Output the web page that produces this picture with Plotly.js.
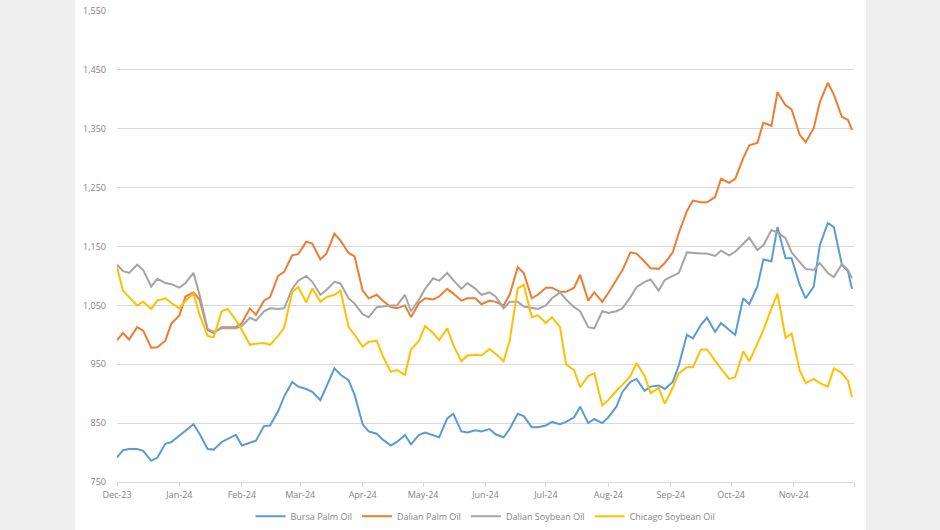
<!DOCTYPE html>
<html>
<head>
<meta charset="utf-8">
<script src="https://cdn.plot.ly/plotly-3.0.1.min.js"></script>
<style>html,body{margin:0;padding:0;background:#efefef;}#chart{width:940px;height:530px;}</style>
</head>
<body>
<div id="chart"></div>
<script>
const dates = [
"2023-12-01","2023-12-04","2023-12-07","2023-12-11","2023-12-14","2023-12-18","2023-12-21","2023-12-25","2023-12-28",
"2024-01-01","2024-01-04","2024-01-08","2024-01-11","2024-01-15","2024-01-18","2024-01-22","2024-01-25","2024-01-29",
"2024-02-01","2024-02-05","2024-02-08","2024-02-12","2024-02-15","2024-02-19","2024-02-22","2024-02-26","2024-02-29",
"2024-03-04","2024-03-07","2024-03-11","2024-03-14","2024-03-18","2024-03-21","2024-03-25","2024-03-28",
"2024-04-01","2024-04-04","2024-04-08","2024-04-11","2024-04-15","2024-04-18","2024-04-22","2024-04-25","2024-04-29",
"2024-05-02","2024-05-06","2024-05-09","2024-05-13","2024-05-16","2024-05-20","2024-05-23","2024-05-27","2024-05-30",
"2024-06-03","2024-06-06","2024-06-10","2024-06-13","2024-06-17","2024-06-20","2024-06-24","2024-06-27",
"2024-07-01","2024-07-04","2024-07-08","2024-07-11","2024-07-15","2024-07-18","2024-07-22","2024-07-25","2024-07-29",
"2024-08-01","2024-08-05","2024-08-08","2024-08-12","2024-08-15","2024-08-19","2024-08-22","2024-08-26","2024-08-29",
"2024-09-02","2024-09-05","2024-09-09","2024-09-12","2024-09-16","2024-09-19","2024-09-23","2024-09-26","2024-09-30",
"2024-10-03","2024-10-07","2024-10-10","2024-10-14","2024-10-17","2024-10-21","2024-10-24","2024-10-28","2024-10-31",
"2024-11-04","2024-11-07","2024-11-11","2024-11-14","2024-11-18","2024-11-21","2024-11-25","2024-11-28","2024-11-30"
];

const bursaPalm = [
792,804,806,806,803,786,791,815,818,828,
837,848,832,806,805,818,823,830,812,817,
820,845,846,870,895,920,912,908,903,889,
912,943,932,923,898,848,836,832,822,812,
818,830,814,830,834,830,826,858,866,836,
834,838,836,840,831,826,840,866,862,843,
843,846,852,848,852,860,878,850,857,850,
860,878,903,920,925,905,912,914,908,920,
948,1000,994,1017,1029,1005,1020,1008,1000,1062,
1052,1082,1128,1125,1183,1130,1130,1085,1062,1082,
1152,1190,1183,1119,1108,1078
];

const dalianPalm = [
991,1003,992,1013,1007,978,979,990,1019,1033,
1065,1072,1060,1008,1003,1013,1013,1013,1020,1045,
1034,1058,1064,1100,1107,1135,1137,1158,1155,1128,
1138,1172,1160,1139,1133,1075,1062,1068,1058,1047,
1045,1050,1030,1054,1062,1060,1065,1078,1070,1058,
1062,1062,1052,1058,1056,1050,1068,1115,1105,1062,
1068,1080,1080,1073,1073,1080,1102,1058,1072,1056,
1071,1093,1110,1140,1138,1124,1113,1112,1122,1140,
1173,1210,1228,1225,1225,1234,1265,1258,1265,1300,
1322,1326,1360,1355,1412,1390,1383,1340,1327,1351,
1395,1428,1408,1370,1365,1348
];

const dalianSoy = [
1119,1108,1105,1119,1110,1082,1095,1088,1086,1080,
1088,1105,1068,1010,1005,1011,1011,1011,1015,1029,
1024,1040,1045,1044,1045,1078,1092,1100,1090,1068,
1076,1090,1087,1062,1053,1035,1030,1047,1048,1050,
1050,1068,1040,1060,1078,1096,1092,1105,1093,1078,
1088,1078,1068,1072,1065,1045,1056,1056,1048,1045,
1044,1050,1062,1072,1060,1047,1040,1013,1011,1040,
1037,1040,1045,1064,1081,1090,1094,1075,1093,1100,
1105,1140,1139,1138,1138,1134,1143,1135,1141,1155,
1165,1144,1152,1178,1174,1164,1140,1124,1112,1110,
1122,1105,1098,1120,1110,1096
];

const chicagoSoy = [
1115,1075,1064,1050,1056,1044,1058,1062,1054,1045,
1058,1070,1034,998,996,1040,1044,1025,1008,983,
985,986,983,998,1012,1073,1081,1055,1079,1056,
1064,1068,1075,1013,1000,980,988,990,964,937,
940,932,975,990,1015,1003,991,1011,983,955,
965,966,965,976,968,955,990,1079,1085,1030,
1033,1020,1030,1013,950,940,911,930,935,880,
889,905,915,930,952,930,901,910,883,910,
935,945,945,975,975,955,942,925,928,972,
955,985,1008,1045,1070,995,1002,940,918,925,
918,912,943,935,922,894
];

const seriesNames = ["Bursa Palm Oil","Dalian Palm Oil","Dalian Soybean Oil","Chicago Soybean Oil"];
const seriesColors = ["#5B9BD5","#ED7D31","#A5A5A5","#FFC000"];
const tickDates = ["2023-12-01","2024-01-01","2024-02-01","2024-03-01","2024-04-01","2024-05-01","2024-06-01","2024-07-01","2024-08-01","2024-09-01","2024-10-01","2024-11-01","2024-12-01"];
const tickLabels = ["Dec-23","Jan-24","Feb-24","Mar-24","Apr-24","May-24","Jun-24","Jul-24","Aug-24","Sep-24","Oct-24","Nov-24",""];

const allSeries = [bursaPalm, dalianPalm, dalianSoy, chicagoSoy];
const traces = allSeries.map((vals, i) => ({
  type: "scatter", mode: "lines", x: dates, y: vals, name: seriesNames[i],
  line: {color: seriesColors[i], width: 2}, hoverinfo: "x+y+name"
}));

const fontFamily = "Open Sans, Lato, sans-serif";
const textColor = "#858585";

const layout = {
  width: 940, height: 530,
  margin: {l: 117, r: 86, t: 11, b: 48, autoexpand: false},
  paper_bgcolor: "#efefef",
  plot_bgcolor: "white",
  font: {family: fontFamily, size: 9, color: textColor},
  showlegend: true,
  legend: {orientation: "h", x: 0.5, xanchor: "center",
           yref: "container", y: 0.026, yanchor: "middle",
           font: {family: fontFamily, size: 9, color: textColor}, bgcolor: "rgba(0,0,0,0)",
           traceorder: "normal", itemwidth: 30},
  xaxis: {
    type: "date", range: ["2023-12-01", "2024-12-01"], automargin: false,
    tickmode: "array", tickvals: tickDates, ticktext: tickLabels,
    ticks: "outside", ticklen: 4, tickcolor: "#d9d9d9", tickwidth: 1,
    showline: true, linecolor: "#d9d9d9", linewidth: 1,
    showgrid: false, zeroline: false,
    tickfont: {family: fontFamily, size: 9, color: textColor},
    ticklabelstandoff: 0
  },
  yaxis: {
    range: [750, 1550], tick0: 750, dtick: 100, tickformat: ",", automargin: false,
    showgrid: true, gridcolor: "#d9d9d9", gridwidth: 1,
    showline: false, zeroline: false, ticks: "",
    tickfont: {family: fontFamily, size: 9, color: textColor},
    ticklabelstandoff: 10
  },
  shapes: [{
    type: "rect", xref: "paper", yref: "paper",
    x0: -0.057, x1: 1.0163, y0: -0.102, y1: 1.024,
    fillcolor: "white", line: {width: 0}, layer: "below"
  }]
};

Plotly.newPlot("chart", traces, layout, {displayModeBar: false, responsive: false});
</script>
</body>
</html>
